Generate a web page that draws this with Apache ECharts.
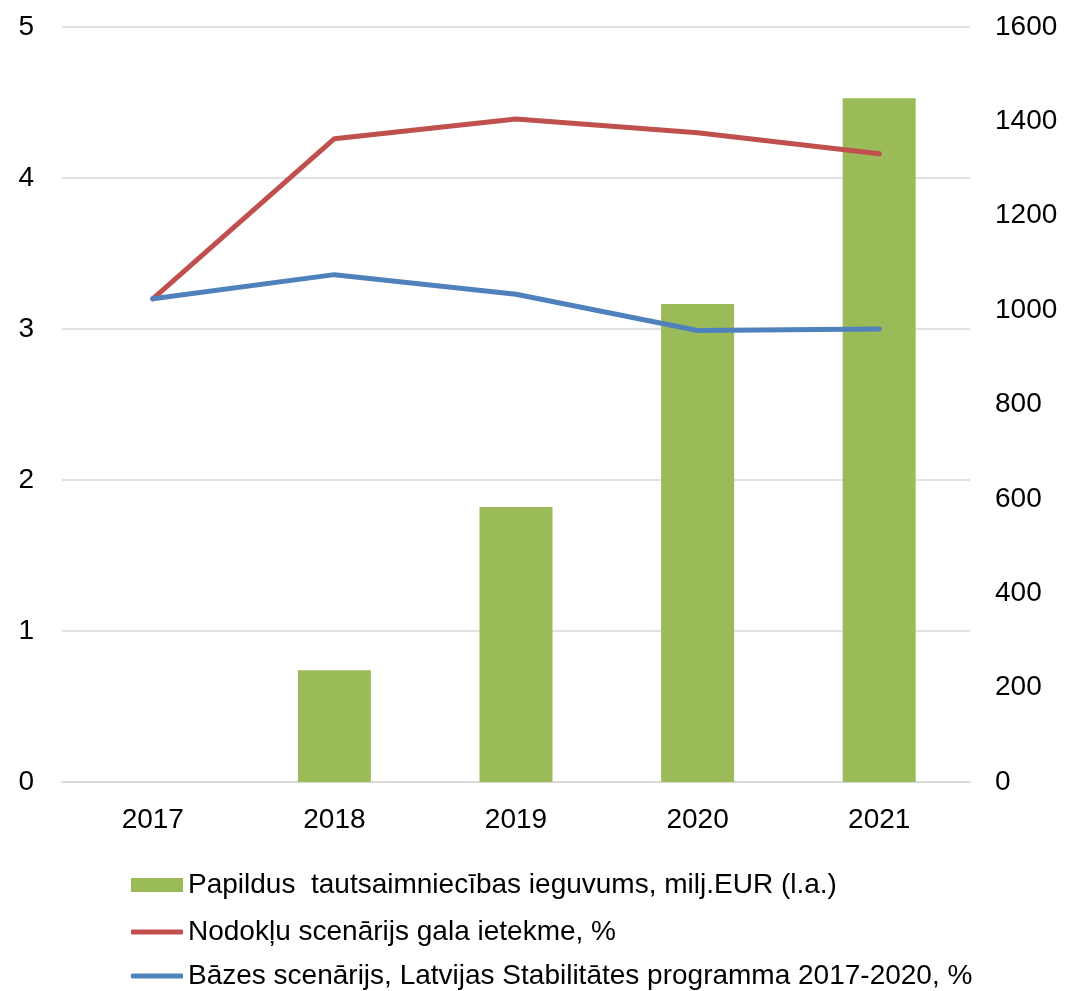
<!DOCTYPE html>
<html>
<head>
<meta charset="utf-8">
<script src="https://cdn.jsdelivr.net/npm/echarts@6/dist/echarts.min.js"></script>
<style>
html,body{margin:0;padding:0;background:#fff;}
#chart{width:1071px;height:991px;}
</style>
</head>
<body>
<div id="chart"></div>
<script>
const categories = ['2017', '2018', '2019', '2020', '2021'];
const barName = 'Papildus  tautsaimniecības ieguvums, milj.EUR (l.a.)';
const redName = 'Nodokļu scenārijs gala ietekme, %';
const blueName = 'Bāzes scenārijs, Latvijas Stabilitātes programma 2017-2020, %';
const barValues = [0, 237, 583, 1013, 1449];
const redValues = [3.2, 4.26, 4.39, 4.30, 4.16];
const blueValues = [3.2, 3.36, 3.23, 2.99, 3.0];
const leftTicks = [0, 5, 1];
const rightTicks = [0, 1600, 200];

const chart = echarts.init(document.getElementById('chart'));
const tickFont = {color: '#000', fontSize: 28, fontFamily: 'Liberation Sans'};
const legText = {fontSize: 28, color: '#000', fontFamily: 'Liberation Sans'};
function leg(name, top, h, icon) {
  return {left: 126, top: top, itemWidth: 52, itemHeight: h, icon: icon,
          textStyle: legText, data: [name], selectedMode: false};
}
chart.setOption({
  animation: false,
  grid: {left: 62, right: 101, top: 27, bottom: 209},
  legend: [
    leg(barName, 866, 14, 'rect'),
    leg(redName, 913, 5, 'roundRect'),
    leg(blueName, 957, 5, 'roundRect')
  ],
  xAxis: {
    type: 'category', data: categories,
    axisLine: {lineStyle: {color: '#d9d9d9', width: 2}},
    axisTick: {show: false},
    axisLabel: Object.assign({margin: 24}, tickFont)
  },
  yAxis: [
    {type: 'value', min: leftTicks[0], max: leftTicks[1], interval: leftTicks[2],
     axisLabel: Object.assign({margin: 28}, tickFont),
     splitLine: {lineStyle: {color: '#d9d9d9', width: 1.5}},
     axisLine: {show: false}, axisTick: {show: false}},
    {type: 'value', min: rightTicks[0], max: rightTicks[1], interval: rightTicks[2],
     axisLabel: Object.assign({margin: 25, formatter: v => String(v)}, tickFont),
     splitLine: {show: false},
     axisLine: {show: false}, axisTick: {show: false}}
  ],
  series: [
    {name: barName, type: 'bar', yAxisIndex: 1, data: barValues, barWidth: 73,
     itemStyle: {color: '#9bbb59'}},
    {name: redName, type: 'line', yAxisIndex: 0, data: redValues, symbol: 'none',
     lineStyle: {color: '#c0504d', width: 5, cap: 'round', join: 'round'}, itemStyle: {color: '#c0504d'}},
    {name: blueName, type: 'line', yAxisIndex: 0, data: blueValues, symbol: 'none',
     lineStyle: {color: '#4f81bd', width: 5, cap: 'round', join: 'round'}, itemStyle: {color: '#4f81bd'}}
  ]
});
</script>
</body>
</html>
